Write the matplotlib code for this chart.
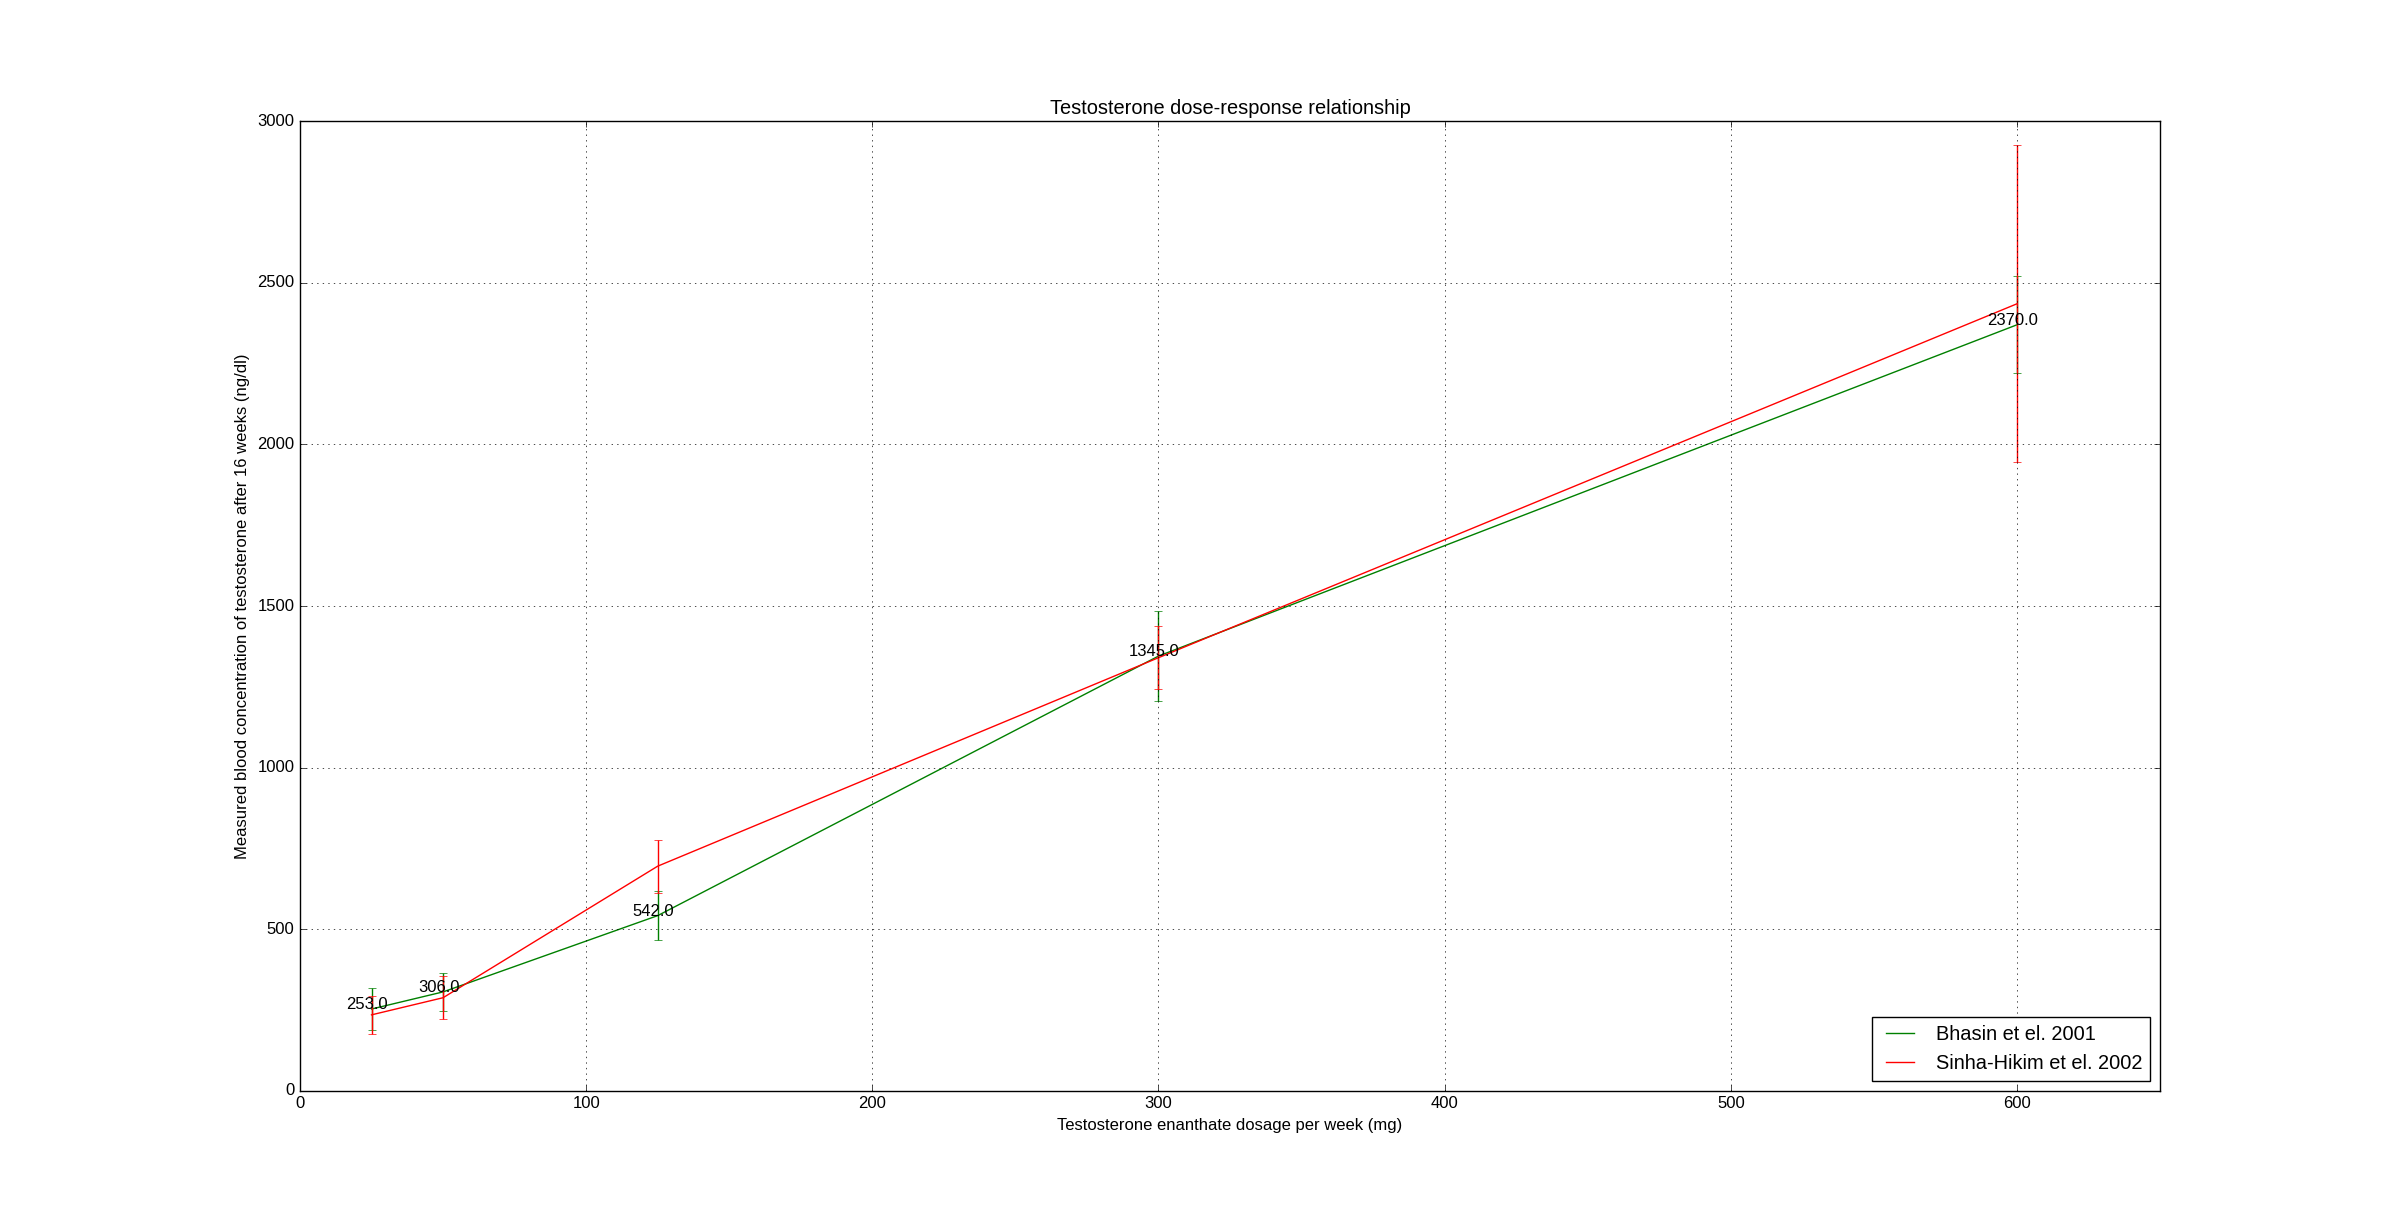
import matplotlib
matplotlib.use("Agg")
import matplotlib.pyplot as plt

plt.style.use("classic")
plt.rcParams['font.family'] = ['Liberation Sans', 'DejaVu Sans']

dose = [25, 50, 125, 300, 600]
bhasin = [253.0, 306.0, 542.0, 1345.0, 2370.0]
bhasin_err = [65, 58, 76, 138, 150]
sinha = [235.0, 288.0, 695.0, 1340.0, 2435.0]
sinha_err = [58, 67, 82, 97, 490]

fig = plt.figure(figsize=(24, 12.12), dpi=100, facecolor='white')
ax = fig.add_subplot(111)

ax.plot(dose, bhasin, color='g', label='Bhasin et el. 2001')
ax.errorbar(dose, bhasin, yerr=bhasin_err, fmt='none', ecolor='g', capsize=3)
ax.plot(dose, sinha, color='r', label='Sinha-Hikim et el. 2002')
ax.errorbar(dose, sinha, yerr=sinha_err, fmt='none', ecolor='r', capsize=3)

for x, y in zip(dose, bhasin):
    ax.annotate(str(y), xy=(x, y), xytext=(-3, 0), textcoords='offset points',
                ha='center', va='baseline', fontsize=12)

ax.set_xlim(0, 650)
ax.set_ylim(0, 3000)
ax.set_xticks([0, 100, 200, 300, 400, 500, 600])
ax.set_yticks([0, 500, 1000, 1500, 2000, 2500, 3000])
ax.grid(True)
ax.set_title('Testosterone dose-response relationship')
ax.set_xlabel('Testosterone enanthate dosage per week (mg)')
ax.set_ylabel('Measured blood concentration of testosterone after 16 weeks (ng/dl)')
ax.legend(loc='lower right')

fig.savefig('out.png', dpi=100, facecolor='white')
